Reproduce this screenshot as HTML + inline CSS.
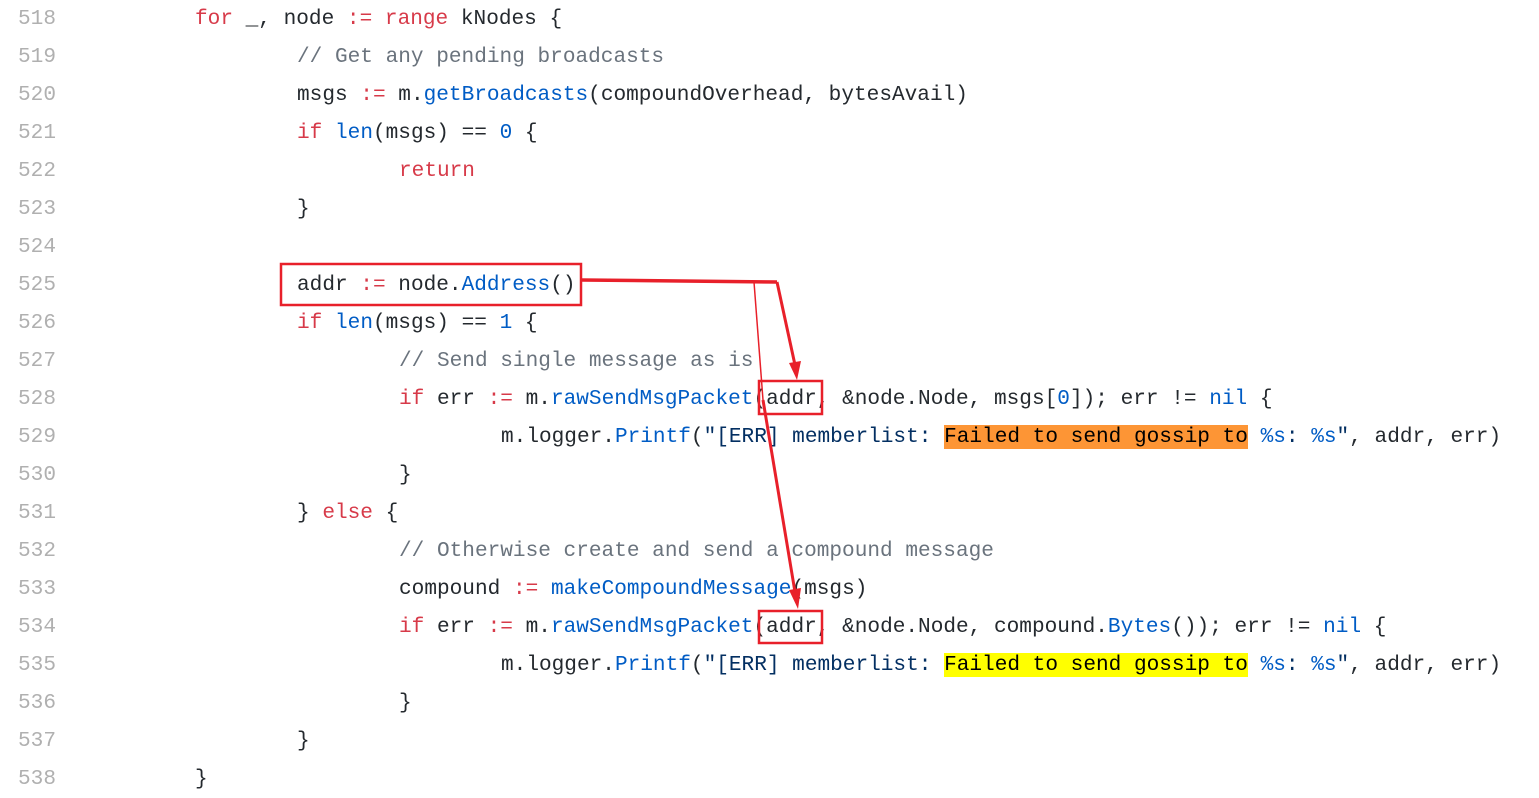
<!DOCTYPE html>
<html><head><meta charset="utf-8"><style>
body{margin:0;width:1539px;height:798px;background:#fff;overflow:hidden;position:relative}
.l{position:absolute;left:0;height:38px;line-height:38px;font-family:"Liberation Mono",monospace;font-size:21.1px;white-space:pre;color:#24292e}
.n{position:absolute;left:18px;color:#b0b0b0}
.c{position:absolute}
.k{color:#d73a49}.b{color:#005cc5}.g{color:#6a737d}.s{color:#032f62}
.o{background:#fd9535;color:#000}.y{background:#ffff00;color:#000}
</style></head><body>
<div class="l" style="top:0px"><span class="n">518</span><span class="c" style="left:195px"><span class="k">for</span> _, node <span class="k">:=</span> <span class="k">range</span> kNodes {</span></div>
<div class="l" style="top:38px"><span class="n">519</span><span class="c g" style="left:297px">// Get any pending broadcasts</span></div>
<div class="l" style="top:76px"><span class="n">520</span><span class="c" style="left:297px">msgs <span class="k">:=</span> m.<span class="b">getBroadcasts</span>(compoundOverhead, bytesAvail)</span></div>
<div class="l" style="top:114px"><span class="n">521</span><span class="c" style="left:297px"><span class="k">if</span> <span class="b">len</span>(msgs) == <span class="b">0</span> {</span></div>
<div class="l" style="top:152px"><span class="n">522</span><span class="c k" style="left:399px">return</span></div>
<div class="l" style="top:190px"><span class="n">523</span><span class="c" style="left:297px">}</span></div>
<div class="l" style="top:228px"><span class="n">524</span></div>
<div class="l" style="top:266px"><span class="n">525</span><span class="c" style="left:297px">addr <span class="k">:=</span> node.<span class="b">Address</span>()</span></div>
<div class="l" style="top:304px"><span class="n">526</span><span class="c" style="left:297px"><span class="k">if</span> <span class="b">len</span>(msgs) == <span class="b">1</span> {</span></div>
<div class="l" style="top:342px"><span class="n">527</span><span class="c g" style="left:399px">// Send single message as is</span></div>
<div class="l" style="top:380px"><span class="n">528</span><span class="c" style="left:399px"><span class="k">if</span> err <span class="k">:=</span> m.<span class="b">rawSendMsgPacket</span>(addr, &amp;node.Node, msgs[<span class="b">0</span>]); err != <span class="b">nil</span> {</span></div>
<div class="l" style="top:418px"><span class="n">529</span><span class="c" style="left:501px">m.logger.<span class="b">Printf</span>(<span class="s">"[ERR] memberlist: </span><span class="o">Failed to send gossip to</span><span class="s"> </span><span class="b">%s</span><span class="s">: </span><span class="b">%s</span><span class="s">"</span>, addr, err)</span></div>
<div class="l" style="top:456px"><span class="n">530</span><span class="c" style="left:399px">}</span></div>
<div class="l" style="top:494px"><span class="n">531</span><span class="c" style="left:297px">} <span class="k">else</span> {</span></div>
<div class="l" style="top:532px"><span class="n">532</span><span class="c g" style="left:399px">// Otherwise create and send a compound message</span></div>
<div class="l" style="top:570px"><span class="n">533</span><span class="c" style="left:399px">compound <span class="k">:=</span> <span class="b">makeCompoundMessage</span>(msgs)</span></div>
<div class="l" style="top:608px"><span class="n">534</span><span class="c" style="left:399px"><span class="k">if</span> err <span class="k">:=</span> m.<span class="b">rawSendMsgPacket</span>(addr, &amp;node.Node, compound.<span class="b">Bytes</span>()); err != <span class="b">nil</span> {</span></div>
<div class="l" style="top:646px"><span class="n">535</span><span class="c" style="left:501px">m.logger.<span class="b">Printf</span>(<span class="s">"[ERR] memberlist: </span><span class="y">Failed to send gossip to</span><span class="s"> </span><span class="b">%s</span><span class="s">: </span><span class="b">%s</span><span class="s">"</span>, addr, err)</span></div>
<div class="l" style="top:684px"><span class="n">536</span><span class="c" style="left:399px">}</span></div>
<div class="l" style="top:722px"><span class="n">537</span><span class="c" style="left:297px">}</span></div>
<div class="l" style="top:760px"><span class="n">538</span><span class="c" style="left:195px">}</span></div>
<svg width="1539" height="798" style="position:absolute;left:0;top:0" fill="none" stroke="#e8202a">
<rect x="281" y="264" width="300" height="41" stroke-width="2.5"/>
<rect x="759" y="381" width="63" height="33" stroke-width="2.5"/>
<rect x="759" y="611" width="63" height="32" stroke-width="2.5"/>
<line x1="581" y1="280" x2="777" y2="282" stroke-width="3.5"/>
<line x1="777" y1="282" x2="795" y2="365" stroke-width="3"/>
<polygon points="789,363 801,361 797,380" fill="#e8202a" stroke="none"/>
<line x1="754" y1="282" x2="763" y2="400" stroke-width="1.5"/>
<line x1="763" y1="400" x2="795" y2="592" stroke-width="3"/>
<polygon points="789,590 801,588 798,609" fill="#e8202a" stroke="none"/>
</svg>
</body></html>
